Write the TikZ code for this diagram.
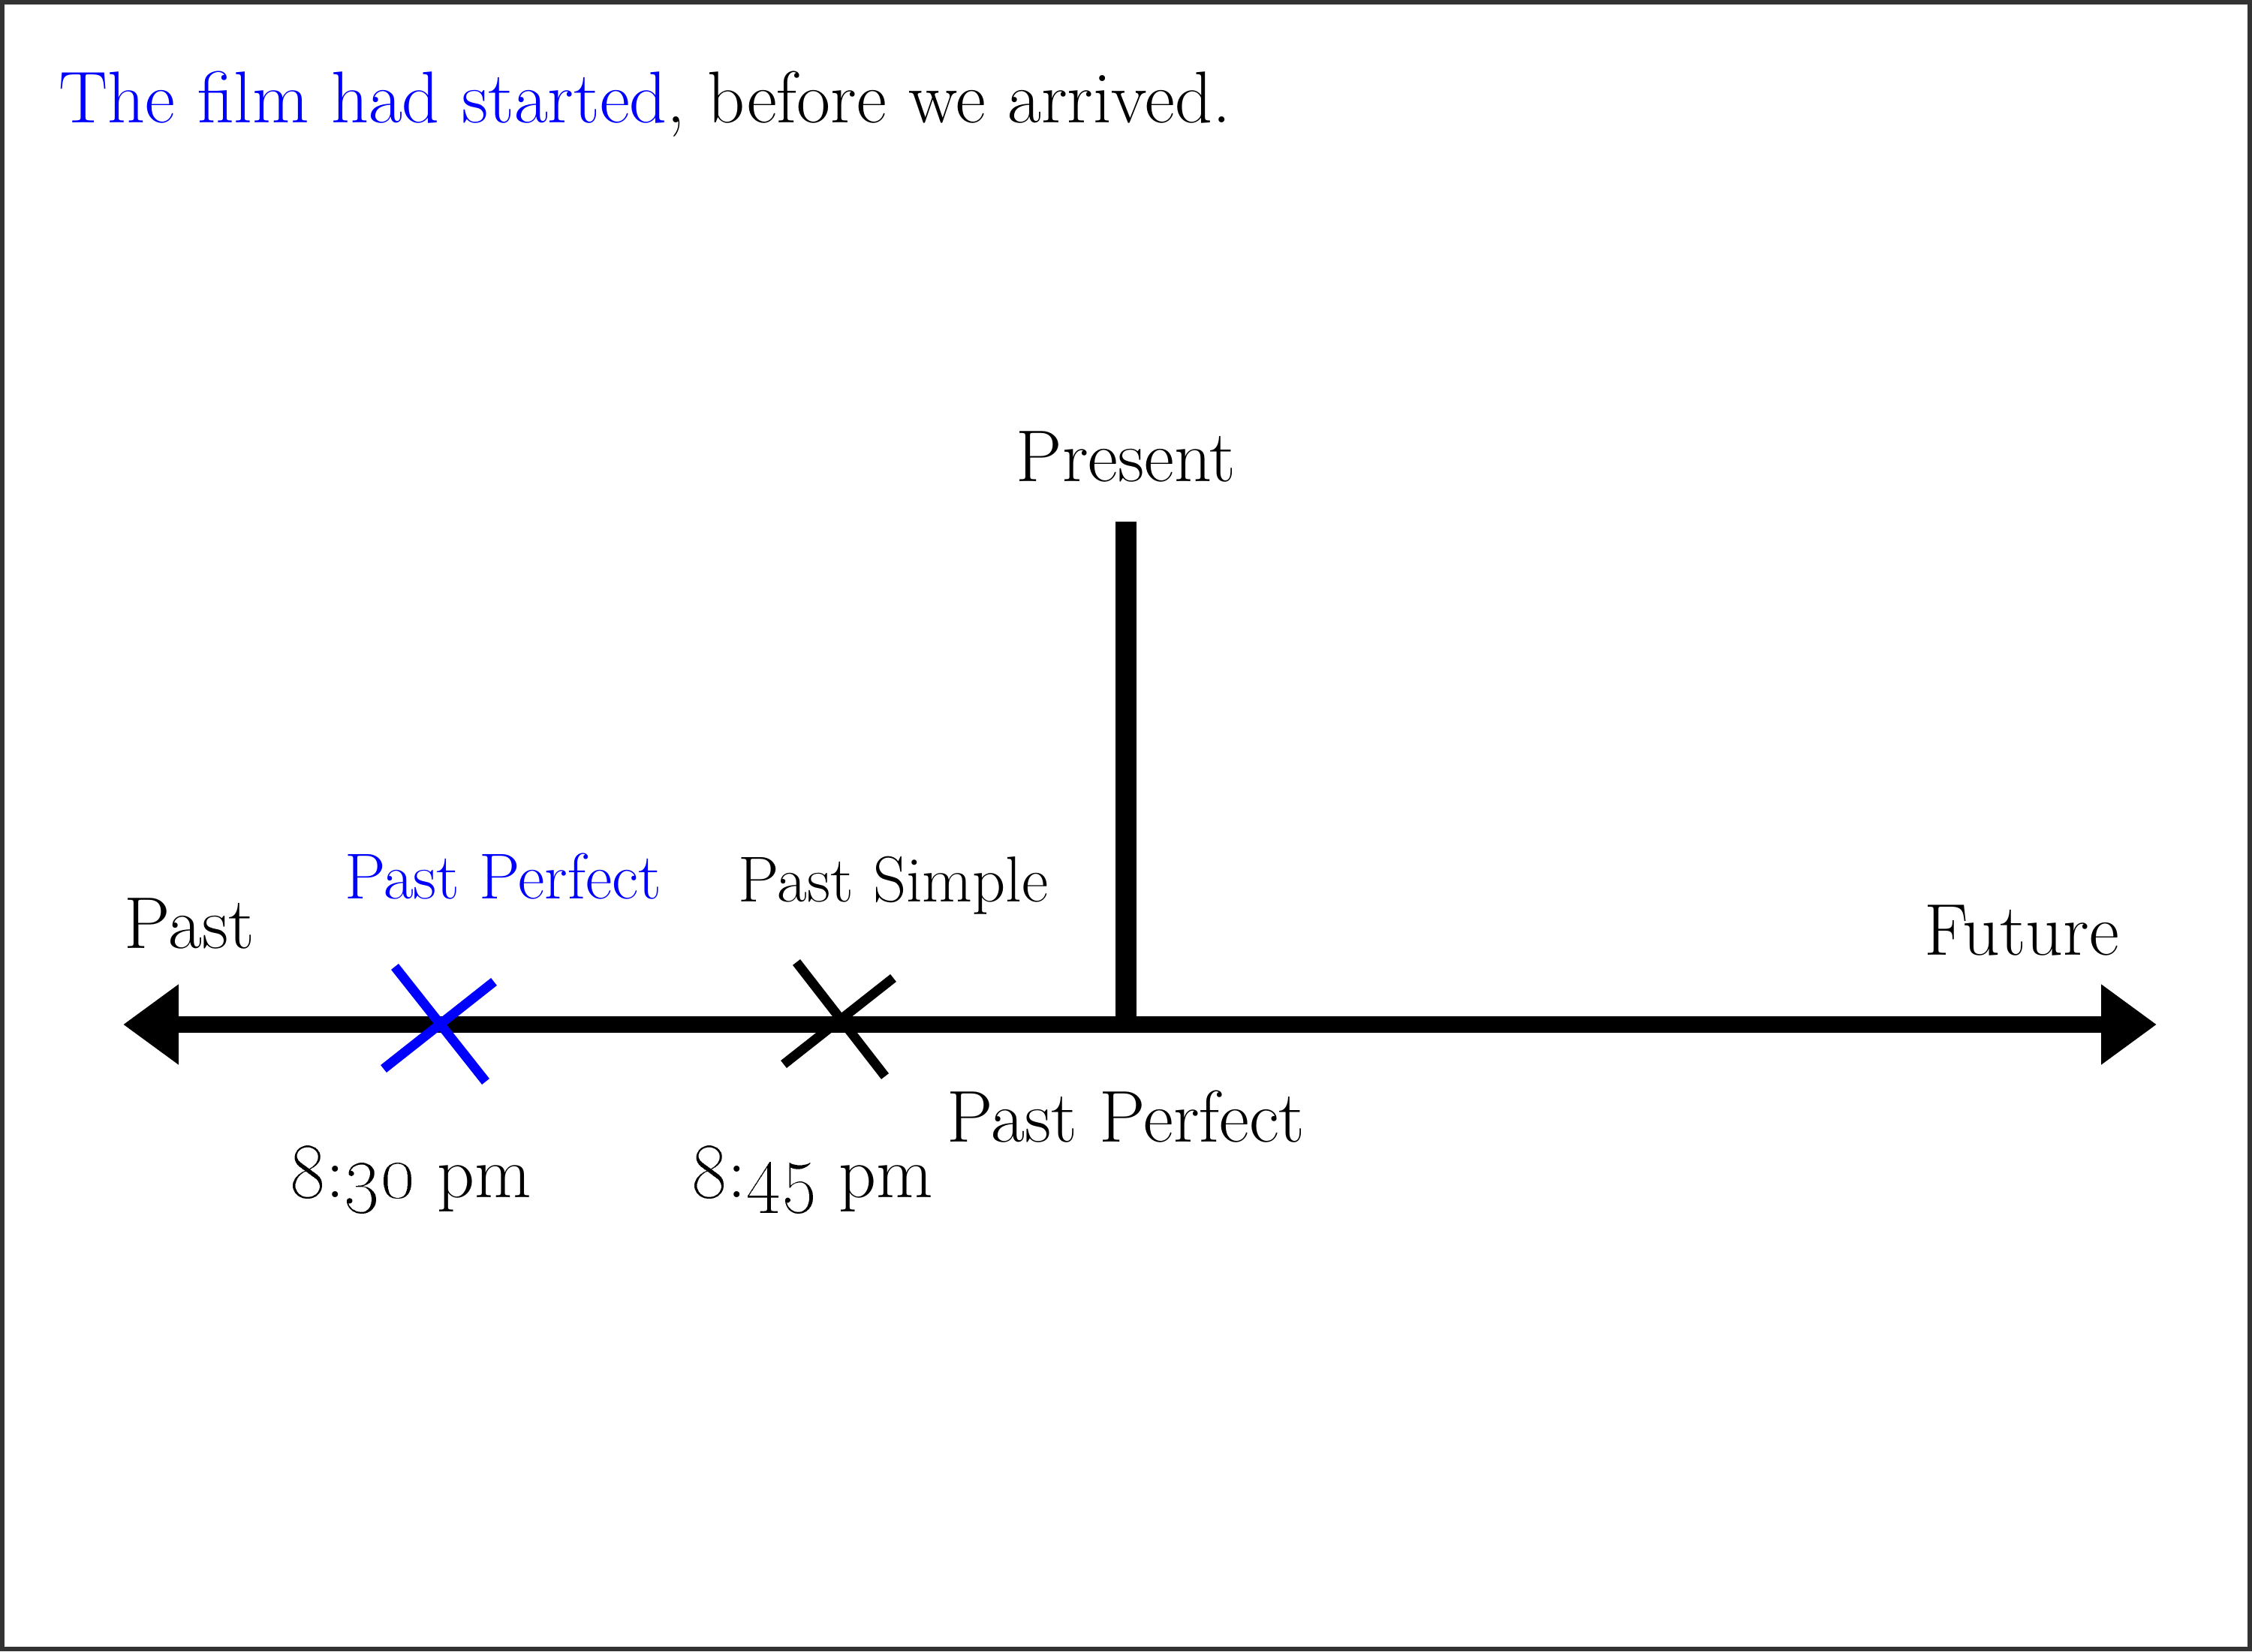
\documentclass[tikz,border=0pt]{standalone}
\usetikzlibrary{arrows.meta}
\newcommand{\bigtxt}{\fontsize{27.8}{33}\selectfont}
\newcommand{\smalltxt}{\fontsize{24.6}{29}\selectfont}
\begin{document}
\begin{tikzpicture}[
  timeline/.style={line width=6pt,-{Triangle[length=21pt,width=29pt]}},
  cross/.style={line width=3.6pt},
  label/.style={inner sep=0pt,anchor=base,font=\bigtxt},
  smalllabel/.style={inner sep=0pt,anchor=base,font=\smalltxt}]

\useasboundingbox (0,0) rectangle (30,22);
\draw[line width=1.7pt,black!80] (0.03,0.03) rectangle (29.97,21.97);

\node[label,anchor=base west] (sentence) at (0.78,20.36) {{\color{blue}The film had started}, before we arrived.};

\coordinate (pastend) at (1.64,8.35);
\coordinate (futureend) at (28.73,8.35);
\coordinate (now) at (15,8.35);
\coordinate (nowtop) at (15,15.05);

\draw[timeline] (now) -- (pastend);
\draw[timeline] (now) -- (futureend);
\draw[line width=8pt] (now) -- (nowtop);

\node[label] (present) at (15,15.58) {Present};
\node[label] (past) at (2.525,9.36) {Past};
\node[label] (future) at (26.93,9.27) {Future};
\node[smalllabel,text=blue] (perfect) at (6.70,10.02) {Past Perfect};
\node[smalllabel] (simple) at (11.90,9.98) {Past Simple};
\node[label] (perfectbelow) at (15,6.78) {Past Perfect};
\node[label] (first) at (5.475,6.04) {\oldstylenums{8}:\oldstylenums{30} pm};
\node[label] (second) at (10.825,6.04) {\oldstylenums{8}:\oldstylenums{45} pm};

\begin{scope}[shift={(5.86,8.37)}]
\draw[cross,blue] (-0.6,0.75) -- (0.61,-0.78);
\draw[cross,blue] (-0.75,-0.61) -- (0.72,0.55);
\end{scope}

\begin{scope}[shift={(11.20,8.38)}]
\draw[cross] (-0.59,0.80) -- (0.59,-0.72);
\draw[cross] (-0.76,-0.56) -- (0.70,0.59);
\end{scope}

\end{tikzpicture}
\end{document}
